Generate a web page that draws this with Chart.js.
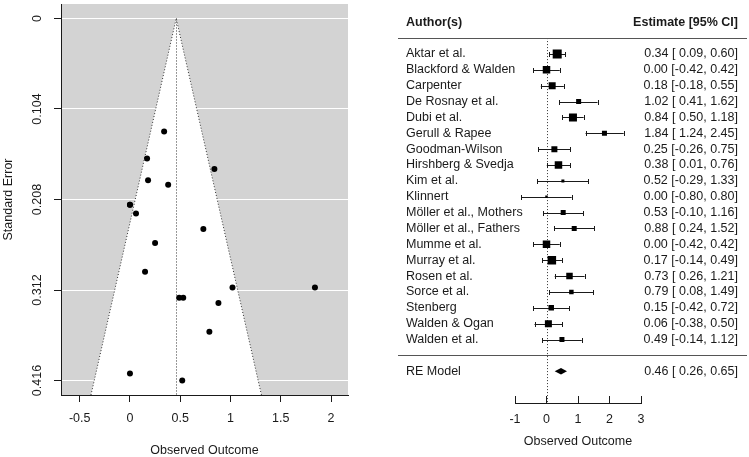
<!DOCTYPE html>
<html>
<head>
<meta charset="utf-8">
<script src="https://cdn.jsdelivr.net/npm/chart.js@4.4.0/dist/chart.umd.min.js"></script>
<style>
  html, body { margin: 0; padding: 0; background: #fff; }
  #wrap { position: relative; width: 749px; height: 457px; }
  #funnel { position: absolute; left: 0; top: 0; }
  #forest { position: absolute; left: 370px; top: 0; }
</style>
</head>
<body>
<div id="wrap">
  <canvas id="funnel" width="370" height="457"></canvas>
  <canvas id="forest" width="379" height="457"></canvas>
</div>
<script>
// ---- data ----
const authors = ['Aktar et al.', 'Blackford & Walden', 'Carpenter', 'De Rosnay et al.', 'Dubi et al.',
  'Gerull & Rapee', 'Goodman-Wilson', 'Hirshberg & Svedja', 'Kim et al.', 'Klinnert',
  'Möller et al., Mothers', 'Möller et al., Fathers', 'Mumme et al.', 'Murray et al.', 'Rosen et al.',
  'Sorce et al.', 'Stenberg', 'Walden & Ogan', 'Walden et al.'];
const estimates = [0.34, 0.00, 0.18, 1.02, 0.84, 1.84, 0.25, 0.38, 0.52, 0.00,
  0.53, 0.88, 0.00, 0.17, 0.73, 0.79, 0.15, 0.06, 0.49];
const ciLower = [0.09, -0.42, -0.18, 0.41, 0.50, 1.24, -0.26, 0.01, -0.29, -0.80,
  -0.10, 0.24, -0.42, -0.14, 0.26, 0.08, -0.42, -0.38, -0.14];
const ciUpper = [0.60, 0.42, 0.55, 1.62, 1.18, 2.45, 0.75, 0.76, 1.33, 0.80,
  1.16, 1.52, 0.42, 0.49, 1.21, 1.49, 0.72, 0.50, 1.12];
const stdErrors = [0.130, 0.214, 0.186, 0.309, 0.173, 0.309, 0.258, 0.191, 0.416, 0.408,
  0.321, 0.327, 0.214, 0.161, 0.242, 0.360, 0.291, 0.224, 0.321];
// relative study weight (box size in the forest plot)
const boxWeight = [9, 7.5, 7, 5, 8, 5, 6, 7.5, 3, 2.5, 5, 5, 7.5, 8.5, 6.5, 4.5, 5.5, 7, 5];
const reLabel = 'RE Model';
const reEstimate = 0.46;
const reLower = 0.26;
const reUpper = 0.65;
const seTicks = [0, 0.104, 0.208, 0.312, 0.416];
const funnelXTicks = [-0.5, 0, 0.5, 1, 1.5, 2];
const forestXTicks = [-1, 0, 1, 2, 3];

const FONT = "'Liberation Sans', Arial, sans-serif";
const INK = '#1a1a1a';
const tickFont = { family: FONT, size: 12.5, lineHeight: 1.2 };
const titleFont = { family: FONT, size: 12.5, lineHeight: 1 };

/* ===========================
   FUNNEL PLOT
============================ */
const funnelPlugin = {
  id: 'funnelBack',
  beforeDraw(chart) {
    const { ctx, chartArea: a, scales: { x, y } } = chart;
    const yBot = y.max;
    ctx.save();
    ctx.fillStyle = '#d3d3d3';
    ctx.fillRect(a.left, a.top, a.right - a.left, a.bottom - a.top);
    // white pseudo-confidence region
    ctx.fillStyle = '#ffffff';
    ctx.beginPath();
    ctx.moveTo(x.getPixelForValue(reEstimate - 1.96 * yBot), y.getPixelForValue(yBot));
    ctx.lineTo(x.getPixelForValue(reEstimate), y.getPixelForValue(0));
    ctx.lineTo(x.getPixelForValue(reEstimate + 1.96 * yBot), y.getPixelForValue(yBot));
    ctx.closePath();
    ctx.fill();
    ctx.restore();
  },
  beforeDatasetsDraw(chart) {
    const { ctx, scales: { x, y } } = chart;
    const yBot = y.max;
    ctx.save();
    ctx.strokeStyle = '#333';
    ctx.lineWidth = 1;
    ctx.setLineDash([1, 2]);
    ctx.beginPath();
    ctx.moveTo(x.getPixelForValue(reEstimate - 1.96 * yBot), y.getPixelForValue(yBot));
    ctx.lineTo(x.getPixelForValue(reEstimate), y.getPixelForValue(0));
    ctx.lineTo(x.getPixelForValue(reEstimate + 1.96 * yBot), y.getPixelForValue(yBot));
    ctx.moveTo(Math.round(x.getPixelForValue(reEstimate)) + 0.5, y.getPixelForValue(0));
    ctx.lineTo(Math.round(x.getPixelForValue(reEstimate)) + 0.5, y.getPixelForValue(yBot));
    ctx.stroke();
    ctx.restore();
  },
  afterDraw(chart) {
    // rotated y tick labels (R style)
    const { ctx, scales: { y } } = chart;
    ctx.save();
    ctx.fillStyle = INK;
    ctx.font = '12.5px ' + FONT;
    ctx.textAlign = 'center';
    ctx.textBaseline = 'middle';
    y.ticks.forEach(t => {
      ctx.save();
      ctx.translate(38, y.getPixelForValue(t.value));
      ctx.rotate(-Math.PI / 2);
      ctx.fillText(String(t.value), 0, 0);
      ctx.restore();
    });
    ctx.restore();
  }
};

new Chart(document.getElementById('funnel'), {
  type: 'scatter',
  data: {
    datasets: [{
      data: estimates.map((e, i) => ({ x: e, y: stdErrors[i] })),
      backgroundColor: '#000',
      borderWidth: 0,
      pointRadius: 3
    }]
  },
  options: {
    responsive: false,
    animation: false,
    events: [],
    layout: { padding: { left: 0, right: 22, top: 2, bottom: 0 } },
    plugins: { legend: { display: false }, tooltip: { enabled: false } },
    scales: {
      x: {
        type: 'linear', min: -0.686, max: 2.169,
        afterBuildTicks: s => { s.ticks = funnelXTicks.map(v => ({ value: v })); },
        afterFit: s => { s.height = 62; },
        border: { color: INK },
        grid: { drawOnChartArea: false, tickLength: 7, tickColor: INK },
        ticks: { color: INK, font: tickFont, padding: 9.5, maxRotation: 0, callback: v => String(v) },
        title: { display: true, text: 'Observed Outcome', color: INK, font: titleFont, padding: { top: 0, bottom: 0 } }
      },
      y: {
        type: 'linear', reverse: true, min: -0.01664, max: 0.43264,
        afterBuildTicks: s => { s.ticks = seTicks.map(v => ({ value: v })); },
        afterFit: s => { s.width = 61; },
        border: { color: INK },
        grid: { color: '#ffffff', tickLength: 7, tickColor: INK },
        ticks: { display: false },
        title: { display: true, text: 'Standard Error', color: INK, font: titleFont, padding: { top: 2, bottom: 0 } }
      }
    }
  },
  plugins: [funnelPlugin]
});

/* ===========================
   FOREST PLOT
============================ */
const nStudies = authors.length;
const rowOf = i => nStudies - i;           // first study on top
const headerRow = nStudies + 2;
const reRow = -1;

function fmt(v) { return v.toFixed(2); }
function ciText(e, lo, hi) {
  return fmt(e) + ' [' + fmt(lo).padStart(5, ' ') + ', ' + fmt(hi) + ']';
}

const forestPlugin = {
  id: 'forestExtras',
  beforeDatasetsDraw(chart) {
    const { ctx, scales: { x, y } } = chart;
    ctx.save();
    // reference line at 0
    const x0 = Math.round(x.getPixelForValue(0)) + 0.5;
    ctx.strokeStyle = '#333';
    ctx.lineWidth = 1;
    ctx.setLineDash([1, 2]);
    ctx.beginPath();
    ctx.moveTo(x0, y.getPixelForValue(nStudies + 1));
    ctx.lineTo(x0, y.getPixelForValue(y.min));
    ctx.stroke();
    ctx.setLineDash([]);
    // confidence intervals with end caps
    ctx.strokeStyle = INK;
    ctx.beginPath();
    for (let i = 0; i < nStudies; i++) {
      const py = Math.round(y.getPixelForValue(rowOf(i))) + 0.5;
      const xl = x.getPixelForValue(ciLower[i]);
      const xh = x.getPixelForValue(ciUpper[i]);
      ctx.moveTo(xl, py); ctx.lineTo(xh, py);
      ctx.moveTo(Math.round(xl) + 0.5, py - 2.5); ctx.lineTo(Math.round(xl) + 0.5, py + 2.5);
      ctx.moveTo(Math.round(xh) + 0.5, py - 2.5); ctx.lineTo(Math.round(xh) + 0.5, py + 2.5);
    }
    ctx.stroke();
    // summary diamond
    const ry = y.getPixelForValue(reRow);
    ctx.fillStyle = '#000';
    ctx.beginPath();
    ctx.moveTo(x.getPixelForValue(reLower), ry);
    ctx.lineTo(x.getPixelForValue(reEstimate), ry - 3.2);
    ctx.lineTo(x.getPixelForValue(reUpper), ry);
    ctx.lineTo(x.getPixelForValue(reEstimate), ry + 3.2);
    ctx.closePath();
    ctx.fill();
    ctx.restore();
  },
  afterDraw(chart) {
    const { ctx, scales: { y } } = chart;
    const leftX = 36, rightX = 368;
    ctx.save();
    ctx.fillStyle = INK;
    ctx.textBaseline = 'middle';
    // header
    ctx.font = 'bold 12.5px ' + FONT;
    ctx.textAlign = 'left';
    ctx.fillText('Author(s)', leftX, y.getPixelForValue(headerRow));
    ctx.textAlign = 'right';
    ctx.fillText('Estimate [95% CI]', rightX, y.getPixelForValue(headerRow));
    // separating lines
    ctx.strokeStyle = '#555';
    ctx.lineWidth = 1;
    ctx.beginPath();
    [nStudies + 1, 0].forEach(r => {
      const py = Math.round(y.getPixelForValue(r)) + 0.5;
      ctx.moveTo(28, py); ctx.lineTo(377, py);
    });
    ctx.stroke();
    // study rows
    ctx.font = '12.5px ' + FONT;
    for (let i = 0; i < nStudies; i++) {
      const py = y.getPixelForValue(rowOf(i));
      ctx.textAlign = 'left';
      ctx.fillText(authors[i], leftX, py);
      ctx.textAlign = 'right';
      ctx.fillText(ciText(estimates[i], ciLower[i], ciUpper[i]), rightX, py);
    }
    const ry = y.getPixelForValue(reRow);
    ctx.textAlign = 'left';
    ctx.fillText(reLabel, leftX, ry);
    ctx.textAlign = 'right';
    ctx.fillText(ciText(reEstimate, reLower, reUpper), rightX, ry);
    ctx.restore();
  }
};

new Chart(document.getElementById('forest'), {
  type: 'scatter',
  data: {
    datasets: [{
      data: estimates.map((e, i) => ({ x: e, y: rowOf(i) })),
      pointStyle: 'rect',
      pointRadius: boxWeight.map(w => w / Math.SQRT2),
      backgroundColor: '#000',
      borderWidth: 0
    }]
  },
  options: {
    responsive: false,
    animation: false,
    events: [],
    layout: { padding: { left: 145, right: 108, top: 3, bottom: 0 } },
    plugins: { legend: { display: false }, tooltip: { enabled: false } },
    scales: {
      x: {
        type: 'linear', min: -1, max: 3,
        afterBuildTicks: s => { s.ticks = forestXTicks.map(v => ({ value: v })); },
        afterFit: s => { s.height = 54; },
        border: { color: INK },
        grid: { drawOnChartArea: false, tickLength: -7, tickColor: INK },
        ticks: { color: INK, font: tickFont, padding: 16, maxRotation: 0, callback: v => String(v) },
        title: { display: true, text: 'Observed Outcome', color: INK, font: titleFont, padding: { top: 0, bottom: 9 } }
      },
      y: { type: 'linear', min: -3, max: 22, display: false }
    }
  },
  plugins: [forestPlugin]
});
</script>
</body>
</html>
